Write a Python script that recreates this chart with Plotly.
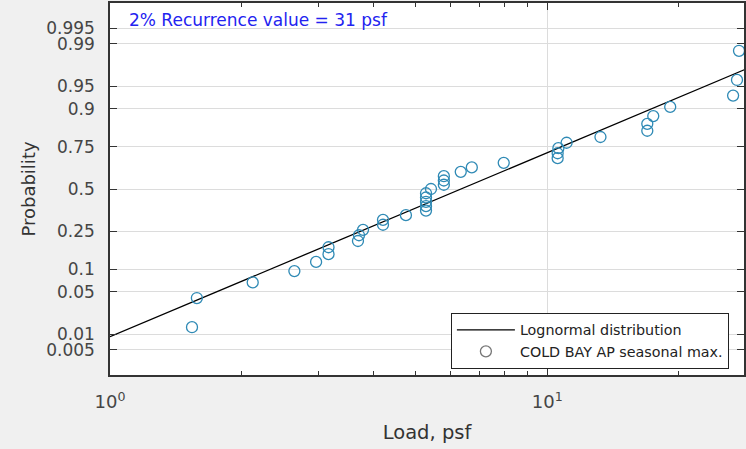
import numpy as np
import plotly.graph_objects as go
from statistics import NormalDist

# ---- data ----
loads_psf = [1.54, 1.58, 2.12, 2.64, 2.96, 3.16, 3.16, 3.69, 3.71, 3.79,
             4.21, 4.21, 4.75, 5.28, 5.28, 5.28, 5.28, 5.28, 5.42, 5.80,
             5.80, 5.80, 6.34, 6.72, 7.95, 10.56, 10.56, 10.60, 11.07, 13.23,
             16.93, 16.93, 17.47, 19.10, 26.60, 27.15, 27.44]
lognormal_mu = 1.848      # mean of ln(load)
lognormal_sigma = 0.782   # std of ln(load)
prob_ticks = [0.005, 0.01, 0.05, 0.1, 0.25, 0.5, 0.75, 0.9, 0.95, 0.99, 0.995]
prob_tick_labels = ["0.005", "0.01", "0.05", "0.1", "0.25", "0.5", "0.75", "0.9", "0.95", "0.99", "0.995"]
x_major_ticks = [1, 10]
x_major_labels = ["10<sup>0</sup>", "10<sup>1</sup>"]
x_minor_ticks = [2, 3, 4, 5, 6, 7, 8, 9, 20, 30]
annotation_text = "2% Recurrence value = 31 psf"

nd = NormalDist()
n = len(loads_psf)
xs = sorted(loads_psf)
plot_pos = [(i - 0.5) / n for i in range(1, n + 1)]
z_pts = [nd.inv_cdf(p) for p in plot_pos]

x_line = np.logspace(0, np.log10(30), 200)
z_line = (np.log(x_line) - lognormal_mu) / lognormal_sigma

FONT = "DejaVu Sans"
TXT = "#454545"

fig = go.Figure()
fig.add_trace(go.Scatter(x=x_line, y=z_line, mode="lines",
                         line=dict(color="black", width=1.3),
                         name="Lognormal distribution"))
fig.add_trace(go.Scatter(x=xs, y=z_pts, mode="markers",
                         marker=dict(symbol="circle-open", size=11,
                                     color="#2f8ab5", line=dict(width=1.3)),
                         name="COLD BAY AP seasonal max.", showlegend=False))
fig.add_trace(go.Scatter(x=[None], y=[None], mode="markers",
                         marker=dict(symbol="circle-open", size=11,
                                     color="#777777", line=dict(width=1.3)),
                         name="COLD BAY AP seasonal max."))

ztick = [nd.inv_cdf(p) for p in prob_ticks]

fig.update_layout(
    width=746, height=449,
    margin=dict(l=110, r=0, t=3, b=74),
    paper_bgcolor="#f0f0f0", plot_bgcolor="white",
    font=dict(family=FONT, color=TXT, size=17),
    showlegend=True,
    legend=dict(x=0.5377, y=0.1667, xanchor="left", yanchor="top",
                bgcolor="white", bordercolor="#222222", borderwidth=1,
                font=dict(family=FONT, size=14.3, color="#222222"),
                itemwidth=58, tracegroupgap=0),
    xaxis=dict(type="log", range=[0, 1.4498],
               tickmode="array", tickvals=x_major_ticks, ticktext=x_major_labels,
               ticks="inside", ticklen=7, tickcolor="#333333",
               showline=True, linecolor="#333333", linewidth=1.5, mirror="ticks",
               showgrid=True, gridcolor="#dcdcdc", gridwidth=1, zeroline=False,
               tickfont=dict(size=18, color=TXT), ticklabelstandoff=10,
               minor=dict(tickmode="array", tickvals=x_minor_ticks, ticks="inside",
                          ticklen=4, tickcolor="#333333", showgrid=False),
               title=dict(text="Load, psf", font=dict(size=19.5, color="#333333"), standoff=14)),
    yaxis=dict(range=[-2.976, 2.976],
               tickmode="array", tickvals=ztick, ticktext=prob_tick_labels,
               ticks="inside", ticklen=7, tickcolor="#333333",
               showline=True, linecolor="#333333", linewidth=1.5, mirror="ticks",
               showgrid=True, gridcolor="#dcdcdc", gridwidth=1, zeroline=False,
               tickfont=dict(size=17, color=TXT), ticklabelstandoff=10,
               title=dict(text="Probability", font=dict(size=18, color="#333333"), standoff=6)),
    annotations=[dict(text=annotation_text, xref="paper", yref="paper",
                      x=0.0267, y=0.954, xanchor="left", yanchor="middle",
                      showarrow=False, font=dict(family=FONT, size=17, color="#2323f0"))],
)

fig.write_html(
    "out.html",
    config={"displayModeBar": False},
    post_script="document.body.style.margin='0';document.body.style.overflow='hidden';"
                "document.body.style.background='#f0f0f0';",
)
